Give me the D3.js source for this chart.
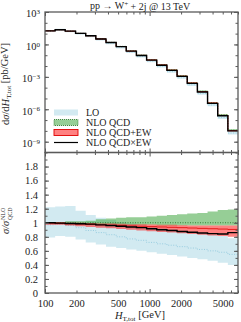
<!DOCTYPE html>
<html>
<head>
<meta charset="utf-8">
<script src="https://cdn.jsdelivr.net/npm/d3@7"></script>
<style>
  body { margin: 0; background: #fff; }
  text { font-family: "Liberation Serif", "DejaVu Serif", serif; fill: #222; }
</style>
</head>
<body>
<div id="chart"></div>
<script>
/* DATA */
// bin edges in H_T,tot [GeV]
const binEdges = [100, 125, 156, 196, 245, 306, 383, 479, 598, 748, 936, 1170, 1464, 1831, 2290, 2864, 3581, 4479, 5601, 7000];

// NLO QCDxEW differential cross section [pb/GeV]
const xsecQcdTimesEw = [18, 23, 17, 10.5, 6.3, 3.2, 1.5, 0.63, 0.24, 0.095, 0.035, 0.012, 4.0e-3, 1.1e-3, 2.5e-4, 4.0e-5, 3.5e-6, 2.5e-7, 1.0e-8];

// ratios to NLO QCD central
const loCentral = [0.97, 0.98, 0.96, 0.93, 0.89, 0.86, 0.83, 0.80, 0.77, 0.75, 0.72, 0.70, 0.68, 0.66, 0.64, 0.62, 0.60, 0.58, 0.55];
const loUpper   = [1.22, 1.23, 1.24, 1.17, 1.11, 1.07, 1.04, 1.01, 0.99, 0.97, 0.95, 0.93, 0.91, 0.89, 0.87, 0.85, 0.83, 0.81, 0.78];
const loLower   = [0.79, 0.81, 0.80, 0.76, 0.72, 0.69, 0.66, 0.64, 0.62, 0.60, 0.58, 0.56, 0.54, 0.52, 0.50, 0.48, 0.46, 0.43, 0.40];

const qcdCentral = [1, 1, 1, 1, 1, 1, 1, 1, 1, 1, 1, 1, 1, 1, 1, 1, 1, 1, 1];
const qcdUpper   = [1.01, 1.01, 1.02, 1.02, 1.03, 1.05, 1.06, 1.07, 1.08, 1.08, 1.09, 1.10, 1.11, 1.12, 1.13, 1.14, 1.16, 1.18, 1.19];
const qcdLower   = [0.99, 0.99, 0.99, 0.99, 0.98, 0.98, 0.98, 0.97, 0.97, 0.97, 0.97, 0.96, 0.96, 0.96, 0.96, 0.96, 0.96, 0.96, 0.96];

const qcdPlusEwCentral = [0.995, 0.99, 0.985, 0.98, 0.975, 0.97, 0.965, 0.96, 0.955, 0.95, 0.945, 0.94, 0.935, 0.93, 0.925, 0.92, 0.915, 0.91, 0.905];
const qcdPlusEwUpper   = [1.01, 1.01, 1.0, 1.0, 0.995, 0.99, 0.99, 0.985, 0.98, 0.98, 0.975, 0.97, 0.97, 0.965, 0.96, 0.96, 0.96, 0.96, 0.96];
const qcdPlusEwLower   = [0.97, 0.97, 0.96, 0.95, 0.94, 0.93, 0.92, 0.91, 0.90, 0.89, 0.88, 0.87, 0.86, 0.85, 0.84, 0.83, 0.82, 0.81, 0.80];

const qcdTimesEwRatio = [1.0, 0.995, 0.99, 0.985, 0.98, 0.97, 0.96, 0.95, 0.94, 0.93, 0.915, 0.9, 0.89, 0.875, 0.865, 0.855, 0.845, 0.84, 0.86];

const xTickLabels = [100, 200, 500, 1000, 2000, 5000];
const ratioTickLabels = [0, 0.2, 0.4, 0.6, 0.8, 1, 1.2, 1.4, 1.6, 1.8];
const xsecTickLabels = [1e3, 1, 1e-3, 1e-6, 1e-9];
const legendLabels = ["LO", "NLO QCD", "NLO QCD+EW", "NLO QCD\u00d7EW"];

/* LAYOUT */
const width = 241, height = 322;
const plotLeft = 45, plotRight = 238, plotTop = 12, plotMid = 152.5, plotBottom = 293;
const frameColor = "#5a5a5a";

const svg = d3.select("#chart").append("svg")
  .attr("width", width).attr("height", height);

const x = d3.scaleLog().domain([100, 7000]).range([plotLeft, plotRight]);
const yTop = d3.scaleLog().domain([1e-10, 1e3]).range([plotMid, plotTop]);
const yBot = d3.scaleLinear().domain([0, 2]).range([plotBottom, plotMid]);

// turn per-bin arrays into step points
function steps(lo, hi) {
  return lo.flatMap((v, i) => [
    { x: binEdges[i], lo: v, hi: hi[i] },
    { x: binEdges[i + 1], lo: v, hi: hi[i] }
  ]);
}

const nloQcd = xsecQcdTimesEw.map((v, i) => v / qcdTimesEwRatio[i]);
const scaleBy = arr => arr.map((r, i) => r * nloQcd[i]);

const colors = {
  lo: "#add8e6", loLine: "#8cc6dc",
  qcd: "#2e9e2e", qcdLine: "#1f6f1f",
  ew: "#ff1a1a", ewLine: "#e00000"
};

function drawPanel(g, y, sets) {
  const area = d3.area().x(d => x(d.x)).y0(d => y(d.lo)).y1(d => y(d.hi));
  const line = d3.line().x(d => x(d.x)).y(d => y(d.lo));

  g.append("path").attr("d", area(steps(sets.loLower, sets.loUpper)))
    .attr("fill", colors.lo).attr("fill-opacity", 0.55);
  g.append("path").attr("d", line(steps(sets.loCentral, sets.loCentral)))
    .attr("fill", "none").attr("stroke", colors.loLine).attr("stroke-width", 0.8)
    .attr("stroke-dasharray", "1,1.5");

  g.append("path").attr("d", area(steps(sets.qcdLower, sets.qcdUpper)))
    .attr("fill", colors.qcd).attr("fill-opacity", 0.5);
  g.append("path").attr("d", line(steps(sets.qcdCentral, sets.qcdCentral)))
    .attr("fill", "none").attr("stroke", colors.qcdLine).attr("stroke-width", 0.8)
    .attr("stroke-dasharray", "1,1.5");

  g.append("path").attr("d", area(steps(sets.ewLower, sets.ewUpper)))
    .attr("fill", colors.ew).attr("fill-opacity", 0.55);
  g.append("path").attr("d", line(steps(sets.ewCentral, sets.ewCentral)))
    .attr("fill", "none").attr("stroke", colors.ewLine).attr("stroke-width", 0.8);

  g.append("path").attr("d", line(steps(sets.black, sets.black)))
    .attr("fill", "none").attr("stroke", "#000").attr("stroke-width", 1.4);
}

svg.append("clipPath").attr("id", "clipTop")
  .append("rect").attr("x", plotLeft).attr("y", plotTop).attr("width", plotRight - plotLeft).attr("height", plotMid - plotTop);
svg.append("clipPath").attr("id", "clipBot")
  .append("rect").attr("x", plotLeft).attr("y", plotMid).attr("width", plotRight - plotLeft).attr("height", plotBottom - plotMid);

drawPanel(svg.append("g").attr("clip-path", "url(#clipTop)"), yTop, {
  loLower: scaleBy(loLower), loUpper: scaleBy(loUpper), loCentral: scaleBy(loCentral),
  qcdLower: scaleBy(qcdLower), qcdUpper: scaleBy(qcdUpper), qcdCentral: scaleBy(qcdCentral),
  ewLower: scaleBy(qcdPlusEwLower), ewUpper: scaleBy(qcdPlusEwUpper), ewCentral: scaleBy(qcdPlusEwCentral),
  black: xsecQcdTimesEw
});

drawPanel(svg.append("g").attr("clip-path", "url(#clipBot)"), yBot, {
  loLower, loUpper, loCentral,
  qcdLower, qcdUpper, qcdCentral,
  ewLower: qcdPlusEwLower, ewUpper: qcdPlusEwUpper, ewCentral: qcdPlusEwCentral,
  black: qcdTimesEwRatio
});

/* AXES */
const xMajor = [100, 1000];
const xMinor = [200, 300, 400, 500, 600, 700, 800, 900, 2000, 3000, 4000, 5000, 6000, 7000];

function styleAxis(g) {
  g.select(".domain").remove();
  g.selectAll(".tick line").attr("stroke", frameColor).attr("stroke-width", 1);
  g.selectAll(".tick text").attr("font-size", "10.5px").attr("fill", "#222");
}

[plotTop, plotMid, plotBottom].forEach(yPos => {
  [[xMajor, 4], [xMinor, 2.5]].forEach(([vals, len]) => {
    if (yPos !== plotMid) {
      const ax = (yPos === plotTop ? d3.axisTop(x) : d3.axisBottom(x)).tickValues(vals).tickSize(-len).tickFormat("");
      svg.append("g").attr("transform", `translate(0,${yPos})`).call(ax).call(styleAxis);
    } else {
      // ticks on both sides of the shared border
      svg.append("g").attr("transform", `translate(0,${yPos})`)
        .call(d3.axisTop(x).tickValues(vals).tickSize(len).tickFormat("")).call(styleAxis);
      svg.append("g").attr("transform", `translate(0,${yPos})`)
        .call(d3.axisBottom(x).tickValues(vals).tickSize(len).tickFormat("")).call(styleAxis);
    }
  });
});

// x tick labels
svg.append("g").attr("transform", `translate(0,${plotBottom})`)
  .call(d3.axisBottom(x).tickValues(xTickLabels).tickSize(0).tickPadding(7).tickFormat(d3.format("d")))
  .call(styleAxis);

// top panel y axis
const decades = d3.range(-10, 4).map(e => Math.pow(10, e));
[[plotLeft, d3.axisRight], [plotRight, d3.axisLeft]].forEach(([pos, fn]) => {
  svg.append("g").attr("transform", `translate(${pos},0)`)
    .call(fn(yTop).tickValues(decades).tickSize(2.5).tickFormat("")).call(styleAxis);
  svg.append("g").attr("transform", `translate(${pos},0)`)
    .call(fn(yTop).tickValues(xsecTickLabels).tickSize(4).tickFormat("")).call(styleAxis);
});
svg.append("g").attr("transform", `translate(${plotLeft},0)`)
  .call(d3.axisLeft(yTop).tickValues(xsecTickLabels).tickSize(0).tickPadding(5).tickFormat(""))
  .call(styleAxis)
  .selectAll(".tick text")
  .each(function(d) {
    const e = Math.round(Math.log10(d));
    const t = d3.select(this);
    t.text("10").attr("dy", "0.45em");
    t.append("tspan").attr("dy", "-0.45em").attr("font-size", "7px")
      .text(e < 0 ? "\u2212" + (-e) : e);
  });

// bottom panel y axis
const ratioMinor = d3.range(0, 20).map(i => i / 10);
[[plotLeft, d3.axisRight], [plotRight, d3.axisLeft]].forEach(([pos, fn]) => {
  svg.append("g").attr("transform", `translate(${pos},0)`)
    .call(fn(yBot).tickValues(ratioMinor).tickSize(2.5).tickFormat("")).call(styleAxis);
  svg.append("g").attr("transform", `translate(${pos},0)`)
    .call(fn(yBot).tickValues(ratioTickLabels).tickSize(4).tickFormat("")).call(styleAxis);
});
svg.append("g").attr("transform", `translate(${plotLeft - 2},0)`)
  .call(d3.axisLeft(yBot).tickValues(ratioTickLabels).tickSize(0).tickPadding(5).tickFormat(d => d === 0 || d === 1 ? d : d3.format(".1f")(d)))
  .call(styleAxis);

// frames
[[plotTop, plotMid], [plotMid, plotBottom]].forEach(([y0, y1]) => {
  svg.append("rect").attr("x", plotLeft).attr("y", y0).attr("width", plotRight - plotLeft).attr("height", y1 - y0)
    .attr("fill", "none").attr("stroke", frameColor).attr("stroke-width", 1.3);
});

/* TEXTS */
const title = svg.append("text").attr("x", 140).attr("y", 9)
  .attr("text-anchor", "middle").attr("font-size", "10px");
title.append("tspan").text("pp \u2192 W");
title.append("tspan").attr("dy", "-0.4em").attr("font-size", "7px").text("+");
title.append("tspan").attr("dy", "0.4em").text(" + 2j @ 13 TeV");

const xLabel = svg.append("text").attr("x", 140).attr("y", 319)
  .attr("text-anchor", "middle").attr("font-size", "10.5px");
xLabel.append("tspan").attr("font-style", "italic").text("H");
xLabel.append("tspan").attr("dy", "0.3em").attr("font-size", "7px").text("T,tot");
xLabel.append("tspan").attr("dy", "-0.3em").text(" [GeV]");

const yLabel = svg.append("text").attr("transform", "translate(9,84) rotate(-90)")
  .attr("text-anchor", "middle").attr("font-size", "10.5px");
yLabel.append("tspan").text("d");
yLabel.append("tspan").attr("font-style", "italic").text("\u03c3");
yLabel.append("tspan").text("/d");
yLabel.append("tspan").attr("font-style", "italic").text("H");
yLabel.append("tspan").attr("dy", "0.3em").attr("font-size", "7px").text("T,tot");
yLabel.append("tspan").attr("dy", "-0.3em").text(" [pb/GeV]");

const rLabel = svg.append("g").attr("transform", "translate(9,222) rotate(-90)");
rLabel.append("text").attr("x", -12).attr("y", 0).attr("font-size", "10.5px")
  .attr("font-style", "italic").text("\u03c3/\u03c3");
rLabel.append("text").attr("x", 2).attr("y", -4).attr("font-size", "6px").text("NLO");
rLabel.append("text").attr("x", 2).attr("y", 3).attr("font-size", "6px").text("QCD");

/* LEGEND */
const legend = svg.append("g");
const rowY = [112.5, 122.5, 132.5, 142.5];
legendLabels.forEach((label, i) => {
  const g = legend.append("g").attr("transform", `translate(0,${rowY[i]})`);
  if (i === 0) {
    g.append("rect").attr("x", 54).attr("y", -3).attr("width", 24).attr("height", 6)
      .attr("fill", colors.lo).attr("fill-opacity", 0.55);
  } else if (i === 1) {
    g.append("rect").attr("x", 54).attr("y", -3).attr("width", 24).attr("height", 6)
      .attr("fill", colors.qcd).attr("fill-opacity", 0.5)
      .attr("stroke", colors.qcdLine).attr("stroke-width", 0.8).attr("stroke-dasharray", "1,1");
  } else if (i === 2) {
    g.append("rect").attr("x", 54).attr("y", -3).attr("width", 24).attr("height", 6)
      .attr("fill", colors.ew).attr("fill-opacity", 0.55)
      .attr("stroke", colors.ewLine).attr("stroke-width", 0.9);
  } else {
    g.append("line").attr("x1", 54).attr("x2", 78).attr("y1", 0).attr("y2", 0)
      .attr("stroke", "#000").attr("stroke-width", 1.2);
  }
  g.append("text").attr("x", 86).attr("y", 3.5).attr("font-size", "10px").text(label);
});
</script>
</body>
</html>
